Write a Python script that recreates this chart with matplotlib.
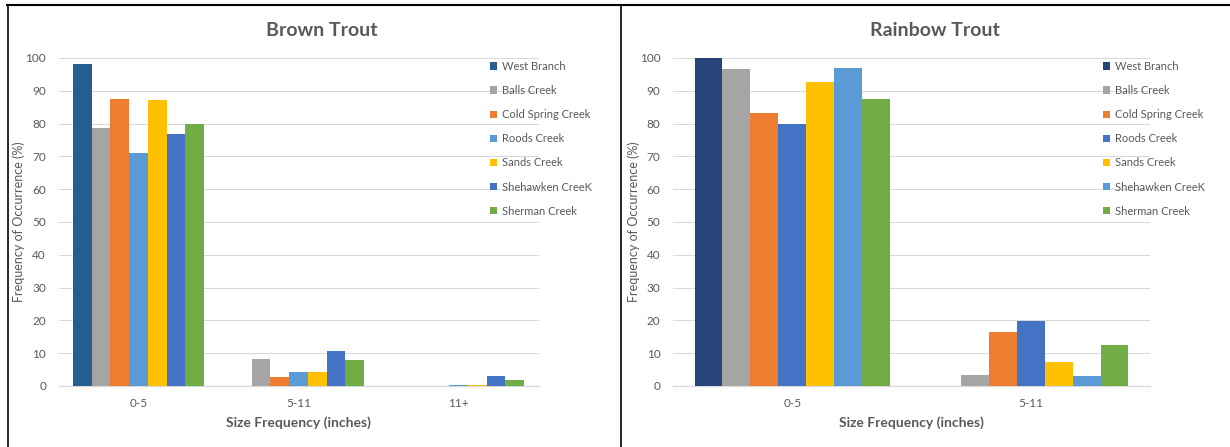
import matplotlib
matplotlib.use("Agg")
import matplotlib.pyplot as plt
from matplotlib.lines import Line2D
import numpy as np

plt.rcParams['font.family'] = ['Lato', 'DejaVu Sans']

# --- data ---
streams_brown = ['West Branch', 'Balls Creek', 'Cold Spring Creek', 'Roods Creek',
                 'Sands Creek', 'Shehawken CreeK', 'Sherman Creek']
sizes_brown = ['0-5', '5-11', '11+']
brown_vals = [
    [98.2, 0.0, 0.0],    # West Branch
    [78.8, 8.1, 0.0],    # Balls Creek
    [87.6, 2.8, 0.0],    # Cold Spring Creek
    [70.9, 4.4, 0.4],    # Roods Creek
    [87.2, 4.4, 0.4],    # Sands Creek
    [76.8, 10.6, 3.1],   # Shehawken CreeK
    [79.9, 7.9, 1.7],    # Sherman Creek
]
brown_colors = ['#255E91', '#A5A5A5', '#ED7D31', '#5B9BD5', '#FFC000', '#4472C4', '#70AD47']

streams_rainbow = ['West Branch', 'Balls Creek', 'Cold Spring Creek', 'Roods Creek',
                   'Sands Creek', 'Shehawken CreeK', 'Sherman Creek']
sizes_rainbow = ['0-5', '5-11']
rainbow_vals = [
    [100.0, 0.0],
    [96.6, 3.4],
    [83.3, 16.5],
    [79.9, 19.9],
    [92.7, 7.3],
    [96.8, 3.1],
    [87.4, 12.4],
]
rainbow_colors = ['#264478', '#A5A5A5', '#ED7D31', '#4472C4', '#FFC000', '#5B9BD5', '#70AD47']

TXT = '#595959'
GRID = '#D9D9D9'
W, H = 1230, 447


def draw_panel(ax, cats, names, vals, colors, title, title_x, legend_x):
    n = len(names)
    bw = 0.117
    x = np.arange(len(cats))
    for i in range(n):
        ax.bar(x + (i - (n - 1) / 2) * bw, vals[i], bw, color=colors[i],
               label=names[i], zorder=3)
    ax.set_xlim(-0.5, len(cats) - 0.5)
    ax.set_ylim(0, 100)
    ax.set_yticks(range(0, 101, 10))
    ax.set_xticks(x)
    ax.set_xticklabels(cats)
    ax.grid(axis='y', color=GRID, linewidth=0.75, zorder=0)
    ax.set_axisbelow(True)
    for s in ['top', 'right', 'left']:
        ax.spines[s].set_visible(False)
    ax.spines['bottom'].set_color(GRID)
    ax.spines['bottom'].set_linewidth(0.9)
    ax.tick_params(axis='both', length=0, labelsize=8.5, labelcolor=TXT)
    ax.tick_params(axis='x', pad=8.5)
    ax.tick_params(axis='y', pad=9)
    ax.set_ylabel('Frequency of Occurrence (%)', fontsize=9, color=TXT, va='center')
    ax.yaxis.set_label_coords(-0.083, 0.5)
    ax.set_xlabel('Size Frequency (inches)', fontsize=10, color=TXT, fontweight='bold',
                  va='center')
    ax.xaxis.set_label_coords(0.5, -0.113)
    ax.set_facecolor('none')
    fig.text(title_x / W, 1 - 31 / H, title, fontsize=14, fontweight='bold',
             color=TXT, ha='center', va='center')
    ax.legend(loc='upper left', bbox_to_anchor=(legend_x / W, 1 - 61 / H),
              bbox_transform=fig.transFigure, frameon=False, fontsize=8,
              labelcolor=TXT, handlelength=0.65, handleheight=0.65,
              handletextpad=0.4, labelspacing=1.18, borderpad=0, borderaxespad=0)


fig = plt.figure(figsize=(W / 100, H / 100), dpi=100)
fig.patch.set_facecolor('white')

ax1 = fig.add_axes([58.5 / W, 61 / H, 480 / W, 328 / H])
ax2 = fig.add_axes([673 / W, 61 / H, 477 / W, 328 / H])

draw_panel(ax1, sizes_brown, streams_brown, brown_vals, brown_colors,
           'Brown Trout', 322, 490)
draw_panel(ax2, sizes_rainbow, streams_rainbow, rainbow_vals, rainbow_colors,
           'Rainbow Trout', 935, 1103)

# panel borders
fig.add_artist(Line2D([7 / W, 1], [1 - 5 / H, 1 - 5 / H], color='black', linewidth=1.5))
fig.add_artist(Line2D([8 / W, 8 / W], [0, 1 - 5 / H], color='black', linewidth=1.2))
fig.add_artist(Line2D([621 / W, 621 / W], [0, 1 - 5 / H], color='black', linewidth=1.2))

fig.savefig('out.png', dpi=100)
